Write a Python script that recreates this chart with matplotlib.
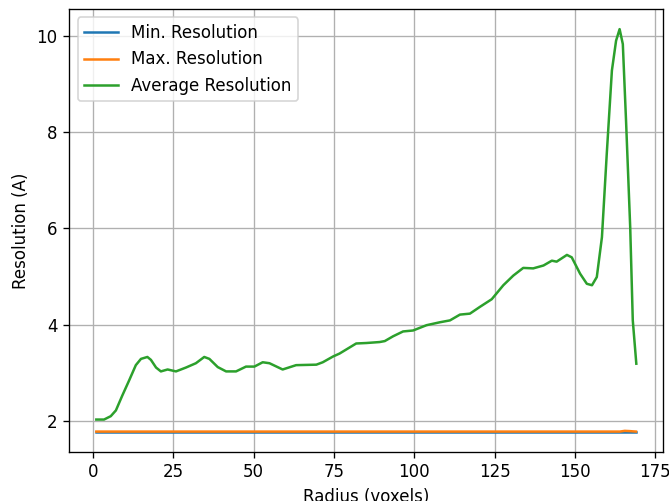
import matplotlib
matplotlib.use("Agg")
import matplotlib.pyplot as plt

# average resolution
radius = [1, 3.4, 5.5, 7.1, 9.1, 11.2, 13.3, 14.9, 16.9, 18, 19.6, 21.1, 23.2, 25.8,
          28.9, 32, 34.6, 36.2, 38.8, 41.4, 44.5, 47.6, 50.2, 52.8, 54.9, 59, 63.2,
          69.5, 71.5, 74.7, 76.7, 81.9, 85.1, 89.2, 90.8, 93.4, 96.5, 99.6, 103.8,
          107.9, 111.1, 114.2, 117.3, 120.4, 124.1, 127.7, 130.8, 133.9, 137, 140.2,
          142.8, 144.3, 147.5, 149, 151.6, 153.7, 155.3, 156.8, 158.4, 159.9, 161.5,
          162.8, 163.9, 164.9, 165.9, 167.2, 168, 169.1]
avg_res = [2.03, 2.03, 2.10, 2.22, 2.53, 2.84, 3.16, 3.29, 3.33, 3.27, 3.11, 3.03, 3.07,
           3.03, 3.11, 3.20, 3.33, 3.29, 3.12, 3.03, 3.03, 3.13, 3.13, 3.22, 3.20, 3.07,
           3.16, 3.17, 3.22, 3.34, 3.40, 3.61, 3.62, 3.64, 3.66, 3.76, 3.86, 3.88, 3.99,
           4.05, 4.09, 4.21, 4.23, 4.37, 4.53, 4.82, 5.02, 5.18, 5.17, 5.23, 5.33, 5.31,
           5.45, 5.40, 5.06, 4.85, 4.82, 4.99, 5.82, 7.55, 9.28, 9.90, 10.14, 9.83, 8.24,
           6.02, 4.09, 3.19]

minmax_radius = [1, 164, 165.5, 167, 169]
min_res = [1.78, 1.78, 1.78, 1.78, 1.78]
max_res = [1.78, 1.78, 1.795, 1.79, 1.78]

dpi = 120
fig = plt.figure(figsize=(669 / dpi, 501 / dpi), dpi=dpi)
ax = fig.add_axes([0.1036, 0.0984, 0.8879, 0.8836])

ax.plot(minmax_radius, min_res, label="Min. Resolution")
ax.plot(minmax_radius, max_res, label="Max. Resolution")
ax.plot(radius, avg_res, label="Average Resolution")

ax.set_xlabel("Radius (voxels)")
ax.set_ylabel("Resolution (A)")
ax.grid(True)
ax.legend(loc="upper left")

fig.savefig("out.png", dpi=dpi)
